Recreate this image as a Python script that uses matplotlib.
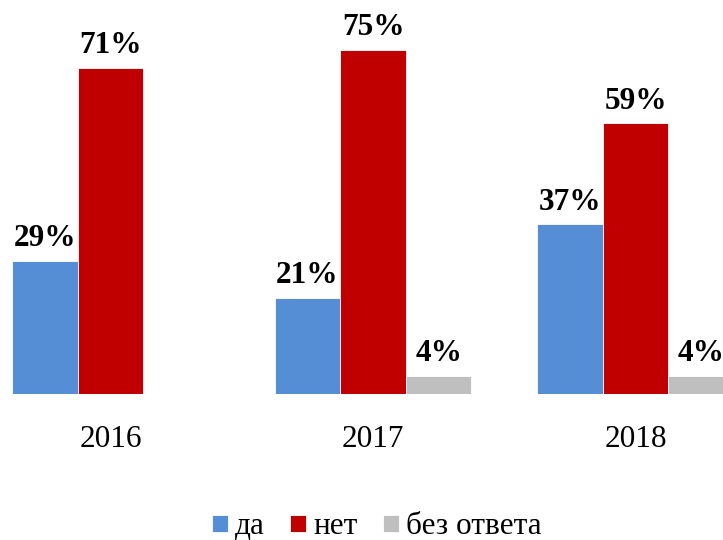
import matplotlib
matplotlib.use("Agg")
import matplotlib.pyplot as plt
import numpy as np

years = ["2016", "2017", "2018"]
series_names = ["да", "нет", "без ответа"]
da = [29, 21, 37]
net = [71, 75, 59]
bez = [None, 4, 4]
colors = ["#558ED5", "#C00000", "#BFBFBF"]

plt.rcParams['font.family'] = ['Liberation Serif', 'DejaVu Serif']

fig = plt.figure(figsize=(7.23, 5.40), dpi=100)
ax = fig.add_axes([0, (540 - 394) / 540, 1, 394 / 540])

x = np.arange(len(years))
w = 0.25
all_series = [da, net, bez]
for i, (vals, name, col) in enumerate(zip(all_series, series_names, colors)):
    xs = x + (i - 1) * w
    hs = [v if v is not None else 0 for v in vals]
    bars = ax.bar(xs, hs, width=w, color=col, edgecolor='white', linewidth=0.6, label=name)
    for b, v in zip(bars, vals):
        if v is None:
            continue
        ax.annotate(f"{v}%", (b.get_x() + b.get_width() / 2, b.get_height()),
                    xytext=(0, 5.5), textcoords='offset points', ha='center', va='bottom',
                    fontsize=22.5, fontweight='bold', color='black')

ax.set_xlim((0 - 110.5) / 262.5, (723 - 110.5) / 262.5)
ax.set_ylim(0, 394 / 4.59)
ax.set_xticks(x)
ax.set_xticklabels(years, fontsize=22.5)
ax.tick_params(axis='x', length=0, pad=22)
ax.set_yticks([])
for s in ax.spines.values():
    s.set_visible(False)

fig.legend(loc='center', bbox_to_anchor=(377 / 723, 13 / 540), ncol=3, frameon=False,
           fontsize=22.5, handlelength=0.5, handleheight=0.5, handletextpad=0.25,
           columnspacing=0.8, borderaxespad=0, borderpad=0)

fig.savefig("out.png", dpi=100)
